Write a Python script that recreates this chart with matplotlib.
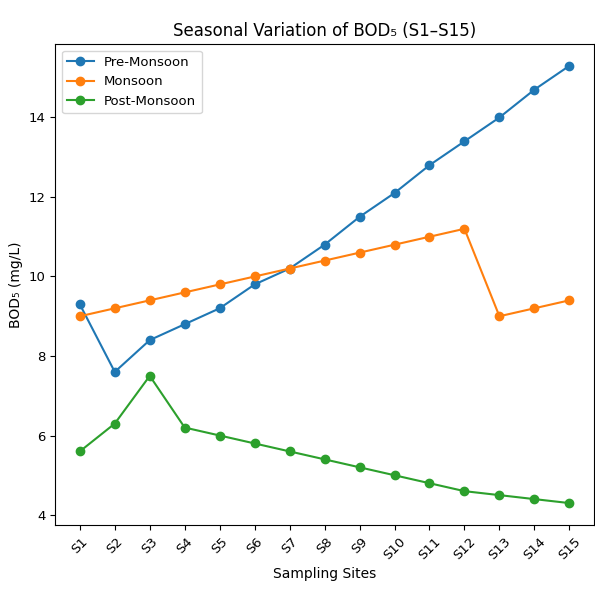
import matplotlib.pyplot as plt

plt.rcParams['font.family'] = ['DejaVu Sans']

sites = [f'S{i}' for i in range(1, 16)]
pre_monsoon = [9.3, 7.6, 8.4, 8.8, 9.2, 9.8, 10.2, 10.8, 11.5, 12.1, 12.8, 13.4, 14.0, 14.7, 15.3]
monsoon = [9.0, 9.2, 9.4, 9.6, 9.8, 10.0, 10.2, 10.4, 10.6, 10.8, 11.0, 11.2, 9.0, 9.2, 9.4]
post_monsoon = [5.6, 6.3, 7.5, 6.2, 6.0, 5.8, 5.6, 5.4, 5.2, 5.0, 4.8, 4.6, 4.5, 4.4, 4.3]

fig = plt.figure(figsize=(5.95, 6.02), dpi=100)
ax = fig.add_axes([0.093, 0.128, 0.905, 0.799])

ax.plot(sites, pre_monsoon, marker='o', label='Pre-Monsoon')
ax.plot(sites, monsoon, marker='o', label='Monsoon')
ax.plot(sites, post_monsoon, marker='o', label='Post-Monsoon')

ax.set_title('Seasonal Variation of BOD\u2085 (S1\u2013S15)', fontsize=12)
ax.set_xlabel('Sampling Sites', fontsize=10)
ax.set_ylabel('BOD\u2085 (mg/L)', fontsize=10)
ax.set_yticks([4, 6, 8, 10, 12, 14])
ax.tick_params(labelsize=9.5)
plt.setp(ax.get_xticklabels(), rotation=45)
ax.legend(loc='upper left', fontsize=9.5)

fig.savefig('out.png', dpi=100)
